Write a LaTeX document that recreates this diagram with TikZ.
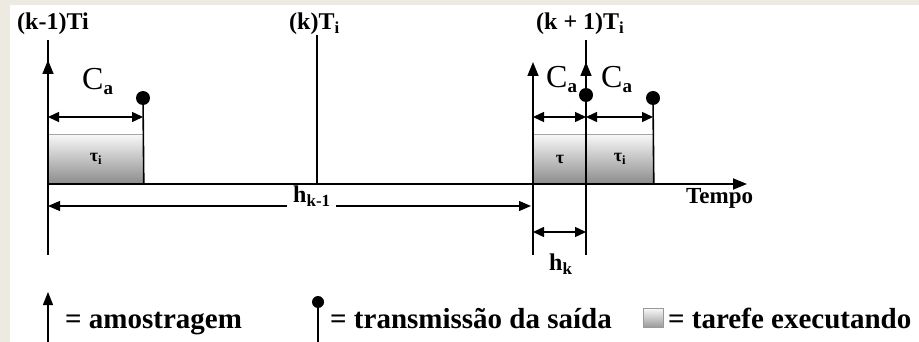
\documentclass[tikz,border=0pt]{standalone}
\usepackage{fontspec}
\setmainfont{Liberation Serif}
\usetikzlibrary{arrows.meta}
\definecolor{bgbeige}{HTML}{EDEBE1}
\tikzset{
  mainline/.style={line width=1.6pt},
  upar/.style={line width=1.6pt,-{Triangle[length=14pt,width=11pt]}},
  dblar/.style={line width=1.4pt,{Triangle[length=11pt,width=10pt]}-{Triangle[length=11pt,width=10pt]}},
  taskbox/.style={rectangle, draw=gray!70, line width=0.8pt, top color=black!3, bottom color=black!45,
     inner sep=0pt, anchor=south west, font=\fontsize{18}{18}\selectfont\bfseries},
  dotn/.style={circle, fill=black, minimum size=14pt, inner sep=0pt},
  toplabel/.style={anchor=base west, inner sep=0pt, font=\fontsize{24}{24}\selectfont\bfseries},
  calabel/.style={anchor=base west, inner sep=0pt, font=\fontsize{32}{32}\selectfont},
  leglabel/.style={anchor=base west, inner sep=0pt, font=\fontsize{29}{30}\selectfont\bfseries},
}
\newcommand{\Ca}{C\raisebox{-5pt}{\fontsize{19}{19}\selectfont\bfseries a}}
\begin{document}
\begin{tikzpicture}[x=1pt,y=-1pt]
\useasboundingbox (0,0) rectangle (919,342);
\fill[bgbeige] (0,0) rectangle (919,342);
\fill[white] (10,5) rectangle (919,342);

% key coordinates
\coordinate (t0) at (48,184);
\coordinate (tend) at (747,184);
\coordinate (L1top) at (48,40);  \coordinate (L1bot) at (48,255);
\coordinate (Mtop) at (317,35);
\coordinate (Mbot) at (317,184);
\coordinate (L2top) at (533,62); \coordinate (L2bot) at (533,255);
\coordinate (L3top) at (586,40); \coordinate (L3bot) at (586,255);

% h_{k-1}
\coordinate (h1a) at (48,206); \coordinate (h1b) at (531,206);
\draw[line width=1.2pt,{Triangle[length=12pt,width=10pt]}-{Triangle[length=12pt,width=10pt]}] (h1a) -- (h1b);
\node[fill=white, inner xsep=6pt, inner ysep=0pt, anchor=base west, font=\fontsize{24}{24}\selectfont\bfseries] (hk1) at (287,203)
  {h\raisebox{-4pt}{\fontsize{17}{17}\selectfont k-1}};

% task boxes
\node[taskbox, minimum width=95pt, minimum height=49pt] (b1) at (48,184) {τ\textsubscript{i}};
\node[taskbox, minimum width=53pt, minimum height=49pt] (b2) at (533,184) {τ};
\node[taskbox, minimum width=67pt, minimum height=49pt] (b3) at (586,184) {τ\textsubscript{i}};

% timeline
\draw[line width=1.8pt,-{Triangle[length=14pt,width=11pt]}] (t0) -- (tend);
\node[anchor=base west, inner sep=0pt, font=\fontsize{23}{23}\selectfont\bfseries] (tempo) at (686,204) {Tempo};

% vertical lines
\draw[mainline] (L1top) -- (L1bot);
\draw[upar] (48,90) -- (48,60);
\draw[mainline] (Mtop) -- (Mbot);
\draw[upar] (L2bot) -- (L2top);
\draw[mainline] (L3top) -- (L3bot);
\draw[upar] (586,90) -- (586,62);

% output dots
\node[dotn] (d1) at (143,98) {};
\node[dotn] (d2) at (586,95) {};
\node[dotn] (d3) at (653,98) {};
\draw[mainline] (d1.center) -- (b1.south east);
\draw[mainline] (d3.center) -- (b3.south east);

% C_a spans
\coordinate (c1a) at (48,117);  \coordinate (c1b) at (143,117);
\coordinate (c2a) at (533,117); \coordinate (c2b) at (586,117);
\coordinate (c3a) at (586,117); \coordinate (c3b) at (653,117);
\draw[dblar] (c1a) -- (c1b);
\draw[dblar] (c2a) -- (c2b);
\draw[dblar] (c3a) -- (c3b);
\node[calabel] (ca1) at (82,90) {\Ca};
\node[calabel] (ca2) at (546,88) {\Ca};
\node[calabel] (ca3) at (601,88) {\Ca};

% top labels
\node[toplabel] (lk1) at (17,30) {(k-1)Ti};
\node[toplabel] (lk) at (289,30) {(k)T\textsubscript{i}};
\node[toplabel] (lk2) at (536,30) {(k + 1)T\textsubscript{i}};

% h_k
\coordinate (h2a) at (533,232); \coordinate (h2b) at (586,232);
\draw[line width=1.4pt,{Triangle[length=11pt,width=10pt]}-{Triangle[length=11pt,width=10pt]}] (h2a) -- (h2b);
\node[anchor=base west, inner sep=0pt, font=\fontsize{24}{24}\selectfont\bfseries] (hk) at (549,270)
  {h\raisebox{-4pt}{\fontsize{17}{17}\selectfont k}};

% legend
\coordinate (la) at (48,342); \coordinate (lb) at (48,292);
\draw[line width=1.4pt,-{Triangle[length=13pt,width=10pt]}] (la) -- (lb);
\node[leglabel] (lg1) at (65,328) {= amostragem};
\node[dotn, minimum size=12pt] (ld) at (318,302) {};
\coordinate (ldb) at (318,342);
\draw[line width=1.4pt] (ld.center) -- (ldb);
\node[leglabel] (lg2) at (330,328) {= transmissão da saída};
\node[rectangle, draw=gray!80, line width=1pt, top color=black!3, bottom color=black!40,
      minimum width=20pt, minimum height=19pt, inner sep=0pt, anchor=north west] (lsq) at (643,308) {};
\node[leglabel] (lg3) at (668,328) {= tarefe executando};
\end{tikzpicture}
\end{document}
